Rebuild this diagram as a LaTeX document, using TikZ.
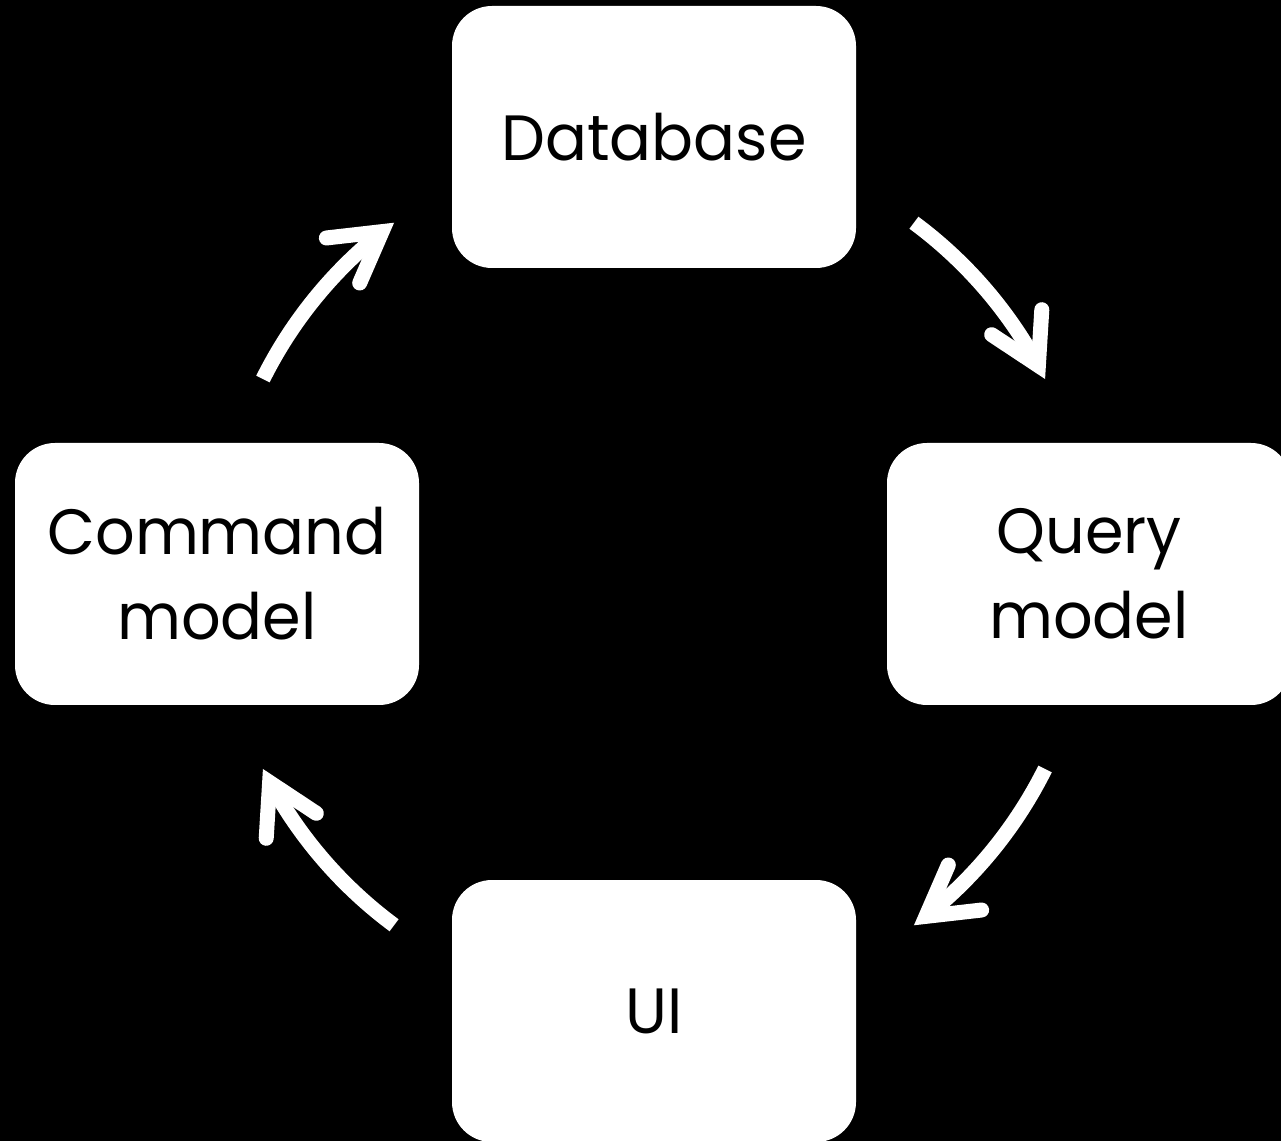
\documentclass[tikz,border=0pt]{standalone}
\usepackage{fontspec}
\setmainfont{Poppins}[FakeStretch=0.97]
\usetikzlibrary{calc}
\begin{document}
\begin{tikzpicture}[x=1pt,y=1pt,
  box/.style={fill=white, rounded corners=40pt, minimum width=404pt, minimum height=262pt,
    inner sep=0pt, align=center, text=black, font=\fontsize{64}{85}\selectfont},
  shaft/.style={draw=white, line width=15pt, line cap=butt},
  head/.style={draw=white, line width=15pt, line cap=round, line join=miter, miter limit=10}
]
\fill[black] (0,0) rectangle (1281,1141);
\useasboundingbox (0,0) rectangle (1281,1141);
\clip (0,0) rectangle (1281,1141);
\node[box] (db) at (654,1004) {Database};
\node[box] (qm) at (1089,567) {Query\\model};
\node[box] (cm) at (217,567) {Command\\model};
\node[box] (ui) at (654,130) {UI};
\coordinate (c) at (654,567);
% Database -> Query model
\coordinate (s1) at ($(c)+(53.5:437pt)$);
\coordinate (p1) at ($(c)+(26.5:437pt)$);
\coordinate (q1) at ($(p1)+(116.5:15pt)$);
\coordinate (a1) at ($(q1)+(146.5:56pt)$);
\coordinate (b1) at ($(q1)+(86.5:56pt)$);
\draw[shaft] (s1) arc[start angle=53.5, end angle=28.5, radius=437pt];
\draw[head] (a1) -- (q1) -- (b1);
% Query model -> UI
\coordinate (s2) at ($(c)+(-26.5:437pt)$);
\coordinate (p2) at ($(c)+(-53.5:437pt)$);
\coordinate (q2) at ($(p2)+(36.5:15pt)$);
\coordinate (a2) at ($(q2)+(66.5:56pt)$);
\coordinate (b2) at ($(q2)+(6.5:56pt)$);
\draw[shaft] (s2) arc[start angle=-26.5, end angle=-51.5, radius=437pt];
\draw[head] (a2) -- (q2) -- (b2);
% UI -> Command model
\coordinate (s3) at ($(c)+(-126.5:437pt)$);
\coordinate (p3) at ($(c)+(-153.5:437pt)$);
\coordinate (q3) at ($(p3)+(-63.5:15pt)$);
\coordinate (a3) at ($(q3)+(-33.5:56pt)$);
\coordinate (b3) at ($(q3)+(-93.5:56pt)$);
\draw[shaft] (s3) arc[start angle=-126.5, end angle=-151.5, radius=437pt];
\draw[head] (a3) -- (q3) -- (b3);
% Command model -> Database
\coordinate (s4) at ($(c)+(153.5:437pt)$);
\coordinate (p4) at ($(c)+(126.5:437pt)$);
\coordinate (q4) at ($(p4)+(216.5:15pt)$);
\coordinate (a4) at ($(q4)+(246.5:56pt)$);
\coordinate (b4) at ($(q4)+(186.5:56pt)$);
\draw[shaft] (s4) arc[start angle=153.5, end angle=128.5, radius=437pt];
\draw[head] (a4) -- (q4) -- (b4);
\end{tikzpicture}
\end{document}
